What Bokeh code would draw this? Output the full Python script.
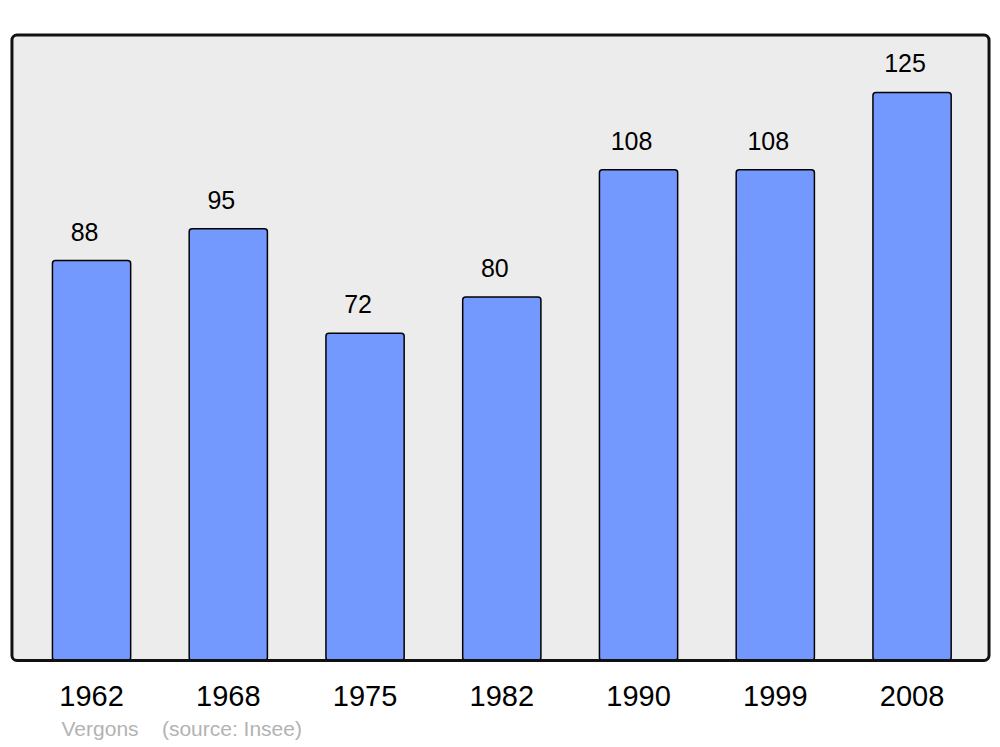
from bokeh.plotting import figure
from bokeh.models import ColumnDataSource, BoxAnnotation, FixedTicker, Title, Range1d
from bokeh.core.properties import value
from bokeh.embed import file_html
from bokeh.resources import INLINE

years = ["1962", "1968", "1975", "1982", "1990", "1999", "2008"]
population = [88, 95, 72, 80, 108, 108, 125]
footer_text = "Vergons\u00a0\u00a0\u00a0\u00a0(source: Insee)"

xs = list(range(len(years)))
src = ColumnDataSource(dict(x=xs, top=population, label=[str(v) for v in population]))

# plot frame range (slightly larger than the grey panel so its border is not clipped)
X0, X1 = -0.600, 6.581
Y0, Y1 = -0.44, 138.2
# grey panel extents
BX0, BX1 = -0.582, 6.563
BY0, BY1 = 0, 137.65

p = figure(width=1000, height=747, output_backend="svg", toolbar_location=None,
           x_range=Range1d(X0, X1), y_range=Range1d(Y0, Y1),
           min_border_left=9, min_border_right=9, min_border_top=32, min_border_bottom=85)
p.background_fill_color = "white"
p.border_fill_color = "white"
p.outline_line_color = None
p.grid.visible = False
p.yaxis.visible = False

frame_box = BoxAnnotation(left=BX0, right=BX1, bottom=BY0, top=BY1, fill_color="#ececec",
                          fill_alpha=1.0, line_color=None, level="underlay", border_radius=5)
p.add_layout(frame_box)

p.vbar(x="x", top="top", bottom=0, width=0.572, source=src, fill_color="#7399ff",
       line_color="black", line_width=1.5, border_radius=3)

p.text(x="x", y="top", text="label", source=src, text_align="center",
       text_baseline="alphabetic", x_offset=-7, y_offset=-29,
       text_font=value("Liberation Sans"), text_font_size="25px", text_color="black")

outline = BoxAnnotation(left=BX0, right=BX1, bottom=BY0, top=BY1, fill_color=None, fill_alpha=0,
                        line_color="#111111", line_alpha=1.0, line_width=3,
                        border_radius=5, level="overlay")
p.add_layout(outline)

ax = p.xaxis[0]
ax.ticker = FixedTicker(ticks=xs)
ax.major_label_overrides = {i: y for i, y in enumerate(years)}
ax.axis_line_color = None
ax.major_tick_line_color = None
ax.minor_tick_line_color = None
ax.major_label_standoff = 17
ax.major_label_text_font = "Liberation Sans"
ax.major_label_text_font_size = "29px"
ax.major_label_text_color = "black"

footer = Title(text=footer_text, align="left", offset=52, text_font="Liberation Sans",
               text_font_size="21px", text_font_style="normal", text_color="#b3b3b3",
               standoff=13)
p.add_layout(footer, "below")

open("out.html", "w").write(file_html(p, INLINE))
